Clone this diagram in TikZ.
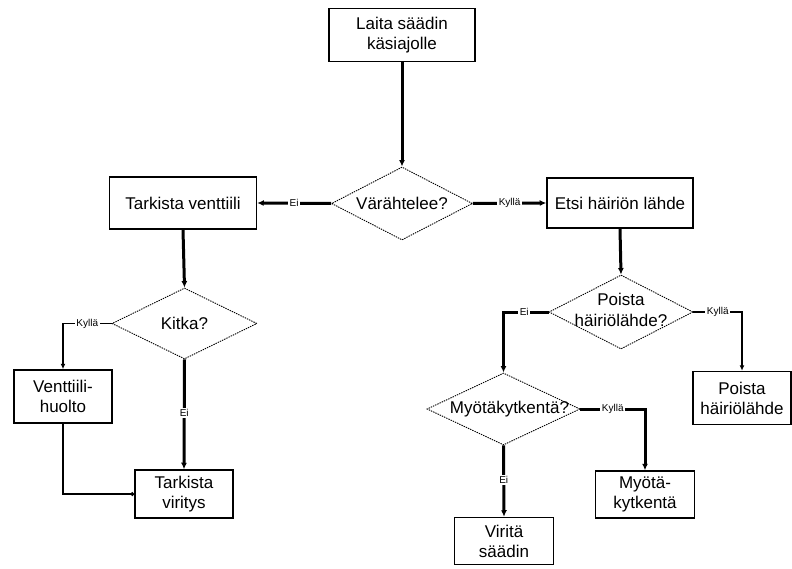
\documentclass[tikz,border=0pt]{standalone}
\usepackage{fontspec}
\setmainfont{Liberation Sans}
\usetikzlibrary{shapes.geometric,arrows.meta}
\begin{document}
\begin{tikzpicture}[x=1pt,y=-1pt,
  every node/.style={font=\fontsize{17}{20}\selectfont},
  box/.style={draw, line width=1.5pt, inner sep=0pt, align=center},
  choice/.style={diamond, aspect=2, draw, line width=0.9pt,
    dash pattern=on 1.4pt off 1pt, inner sep=0pt, align=center},
  lbl/.style={fill=white, inner sep=1.5pt, font=\fontsize{10}{11}\selectfont},
  heavy/.style={line width=3pt, -{Latex[length=6.5pt,width=6pt]}},
  medium/.style={line width=1.8pt, -{Latex[length=5.5pt,width=5pt]}},
  light/.style={line width=1.2pt, -{Circle[length=4pt]}}
]
\useasboundingbox (0,0) rectangle (792,569);

% process boxes
\node[box, minimum width=146pt, minimum height=53pt] (start) at (402,35)
  {Laita säädin\\käsiajolle};
\node[box, minimum width=147pt, minimum height=52pt] (check) at (183,203)
  {Tarkista venttiili};
\node[box, minimum width=146pt, minimum height=50pt] (find) at (620,203)
  {Etsi häiriön lähde};
\node[box, minimum width=98pt, minimum height=53pt] (service) at (63,396.5)
  {Venttiili-\\huolto};
\node[box, minimum width=98pt, minimum height=48pt] (tune) at (184,494)
  {Tarkista\\viritys};
\node[box, minimum width=98pt, minimum height=53pt] (removebox) at (742,398)
  {Poista\\häiriölähde};
\node[box, minimum width=99pt, minimum height=47pt] (ffbox) at (645,494.5)
  {Myötä-\\kytkentä};
\node[box, minimum width=99pt, minimum height=47pt] (tunectl) at (504,541)
  {Viritä\\säädin};

% decisions
\node[choice, minimum width=141pt, minimum height=73pt] (vib) at (402,203.5)
  {\makebox[0pt]{Värähtelee?}};
\node[choice, minimum width=145pt, minimum height=71pt] (kitka) at (184.5,323.5)
  {\makebox[0pt]{Kitka?}};
\node[choice, minimum width=144pt, minimum height=74pt] (remove) at (621,312)
  {\makebox[0pt]{\begin{tabular}{@{}c@{}}Poista\\häiriölähde?\end{tabular}}};
\node[choice, minimum width=153pt, minimum height=72pt] (ff) at (503.5,409)
  {\makebox[0pt]{\hspace*{12pt}Myötäkytkentä?}};

% connectors
\draw[heavy] (start.south) -- (vib.north);
\draw[heavy] (vib.west) -- node[lbl] {Ei} (check.east);
\draw[heavy] (vib.east) -- node[lbl] {Kyllä} (find.west);
\draw[heavy] (check.south) -- (kitka.north);
\draw[medium] (kitka.west) -| node[lbl, pos=0.25] {Kyllä} (service.north);
\draw[heavy] (kitka.south) -- node[lbl, pos=0.49] {Ei} (tune.north);
\draw[light] (service.south) |- (tune.west);
\draw[heavy] (find.south) -- (remove.north);
\draw[heavy] (remove.west) -| node[lbl, pos=0.27] {Ei} (ff.north);
\draw[medium] (remove.east) -| node[lbl, pos=0.25] {Kyllä} (removebox.north);
\draw[heavy] (ff.east) -| node[lbl, pos=0.25] {Kyllä} (ffbox.north);
\draw[heavy] (ff.south) -- node[lbl, pos=0.48] {Ei} (tunectl.north);
\end{tikzpicture}
\end{document}
